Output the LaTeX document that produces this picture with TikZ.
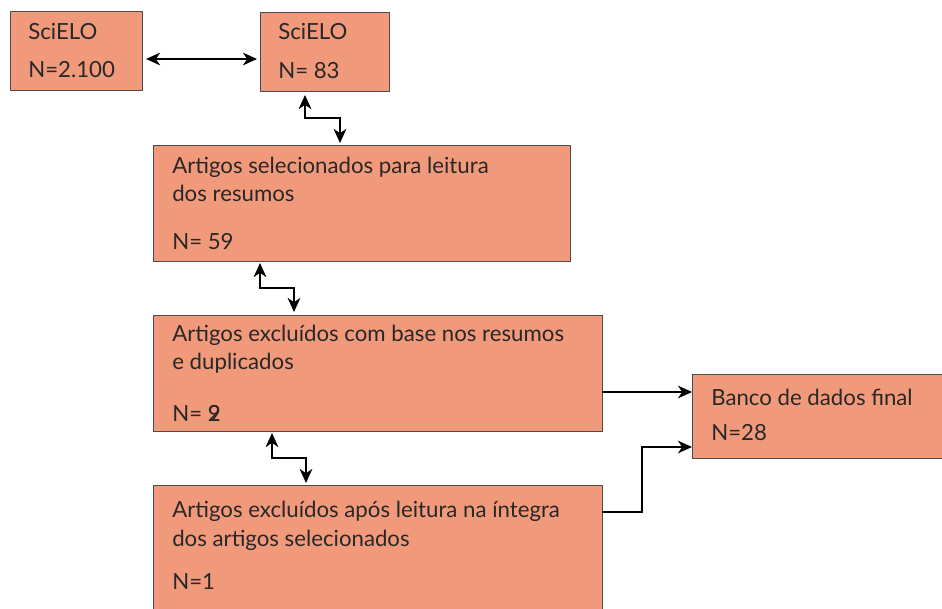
\documentclass[tikz,border=0pt]{standalone}
\usepackage{fontspec}
\setmainfont{Lato}
\usepackage{tikz}
\usetikzlibrary{calc}
\usetikzlibrary{arrows.meta}
\definecolor{saumon}{RGB}{240,153,123}
\definecolor{encre}{RGB}{40,40,40}
\tikzstyle{boite}  =[draw=black!70, fill=saumon, line width=0.6pt, rectangle, inner sep=0pt, outer sep=0pt, anchor=north west]
\tikzstyle{texte}  =[anchor=base west, inner sep=0pt, text=encre, font=\fontsize{15.8}{18}\selectfont]
\tikzstyle{fleche} =[line width=1.4pt, >={Stealth[length=10pt,width=9pt,inset=3pt]}]

\begin{document}
\begin{tikzpicture}[x=0.025cm,y=-0.025cm]

\useasboundingbox (0,0) rectangle (942,609);

%%%%%%%%%%%%%%%%%%%%%%%%
%Les boîtes
%%%%%%%%%%%%%%%%%%%%%%%%

\node[boite, minimum width=3.3cm,   minimum height=1.975cm] (b1) at (10,11) {};
\node[boite, minimum width=3.225cm, minimum height=1.975cm] (b2) at (260,12) {};
\node[boite, minimum width=10.425cm,minimum height=2.9cm]   (b3) at (153,145) {};
\node[boite, minimum width=11.225cm,minimum height=2.9cm]   (b4) at (153,315) {};
\node[boite, minimum width=6.3cm,   minimum height=2.1cm]   (b5) at (692,374) {}; %sort de l'image à droite
\node[boite, minimum width=11.225cm,minimum height=3.25cm]  (b6) at (153,485) {}; %sort de l'image en bas

%%%%%%%%%%%%%%%%%%%%%%%%
%Les textes
%%%%%%%%%%%%%%%%%%%%%%%%

\node[texte] (t1a) at ($(b1.north west)+(18,29)$) {SciELO};
\node[texte] (t1b) at ($(b1.north west)+(18,67)$) {N=2.100};

\node[texte] (t2a) at ($(b2.north west)+(18,28)$) {SciELO};
\node[texte] (t2b) at ($(b2.north west)+(18,67)$) {N= 83};

\node[texte] (t3a) at ($(b3.north west)+(19,29)$) {Artigos selecionados para leitura};
\node[texte] (t3b) at ($(b3.north west)+(19,57)$) {dos resumos};
\node[texte] (t3c) at ($(b3.north west)+(19,105)$) {N= 59};

\node[texte] (t4a) at ($(b4.north west)+(19,27)$) {Artigos excluídos com base nos resumos};
\node[texte] (t4b) at ($(b4.north west)+(19,55)$) {e duplicados};
\node[texte] (t4c) at ($(b4.north west)+(19,107)$) {N= \rlap{2}9}; %le 2 et le 9 se chevauchent

\node[texte] (t5a) at ($(b5.north west)+(19,32)$) {Banco de dados final};
\node[texte] (t5b) at ($(b5.north west)+(19,67)$) {N=28};

\node[texte] (t6a) at ($(b6.north west)+(19,33)$) {Artigos excluídos após leitura na íntegra};
\node[texte] (t6b) at ($(b6.north west)+(19,62)$) {dos artigos selecionados};
\node[texte] (t6c) at ($(b6.north west)+(19,104)$) {N=1};

%%%%%%%%%%%%%%%%%%%%%%%%
%Les flèches
%%%%%%%%%%%%%%%%%%%%%%%%

\draw[fleche,<->] ($(b1.north east)+(4,48)$) -- ($(b2.north west)+(-3,47)$);
\draw[fleche,<->] ($(b2.south west)+(45,4)$) |- ($(b3.north west)+(187,-27)$) -- ($(b3.north west)+(187,-2)$);
\draw[fleche,<->] ($(b3.south west)+(107,2)$) |- ($(b4.north west)+(141,-27)$) -- ($(b4.north west)+(141,-3)$);
\draw[fleche,<->] ($(b4.south west)+(119,2)$) |- ($(b6.north west)+(153,-27)$) -- ($(b6.north west)+(153,-2)$);
\draw[fleche,->]  ($(b4.north east)+(0,77)$) -- ($(b5.north west)+(0,18)$);
\draw[fleche,->]  ($(b6.north east)+(0,27)$) -| ($(b5.north west)+(-50,73)$) -- ($(b5.north west)+(0,73)$);

\end{tikzpicture}
\end{document}
